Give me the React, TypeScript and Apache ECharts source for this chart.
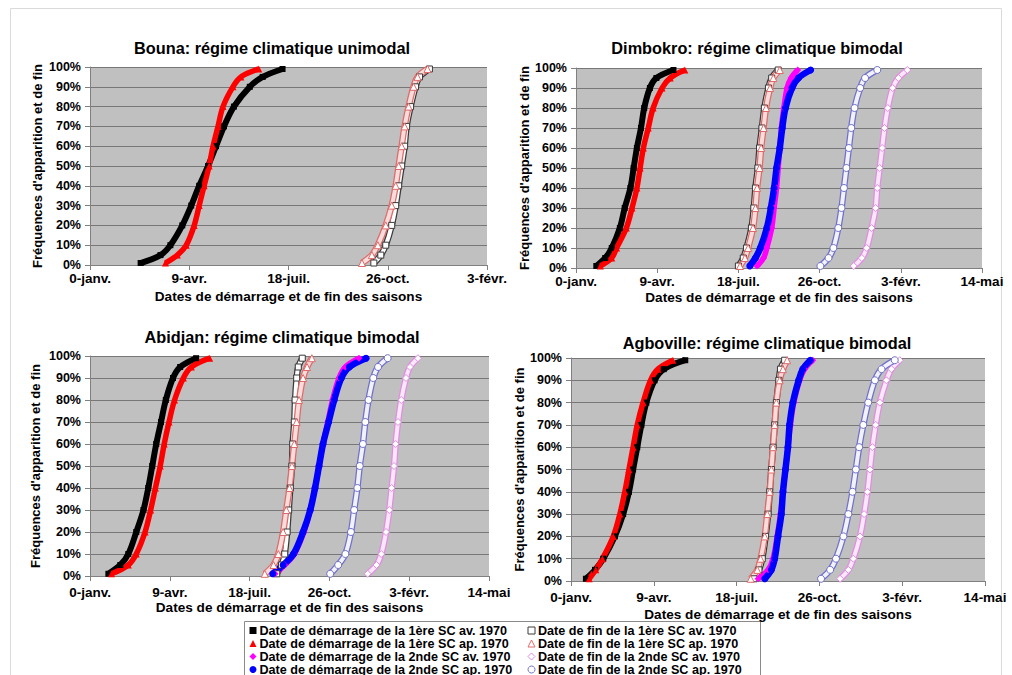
import React, { useEffect, useRef } from "react";
import * as echarts from "echarts";

// cumulative frequency levels (y values) shared by every curve
const FREQ = [0.01, 0.05, 0.1, 0.2, 0.3, 0.4, 0.5, 0.6, 0.7, 0.8, 0.9, 0.95, 0.99];
// x tick labels (Excel day numbers 0,100,200,...)
const TICK_LABELS = ["0-janv.", "9-avr.", "18-juil.", "26-oct.", "3-févr.", "14-mai"];

// ---- Bouna (unimodal), day numbers per frequency level
const BOUNA_DEB1_AV = [51, 71, 81, 93, 102, 110, 119, 127, 135, 145, 161, 174, 194];
const BOUNA_DEB1_AP = [76, 88, 97, 105, 110, 115, 120, 124, 129, 134, 144, 152, 170];
const BOUNA_FIN1_AV = [286, 293, 298, 304, 308, 311, 314, 317, 319, 323, 328, 332, 342];
const BOUNA_FIN1_AP = [274, 284, 290, 298, 304, 308, 311, 314, 317, 321, 326, 330, 340];

// ---- Dimbokro (bimodal)
const DIM_DEB1_AV = [25, 36, 44, 54, 60, 67, 71, 75, 80, 84, 91, 99, 120];
const DIM_DEB1_AP = [30, 44, 50, 62, 69, 75, 79, 83, 89, 95, 106, 116, 134];
const DIM_FIN1_AV = [200, 206, 210, 216, 219, 221, 224, 226, 229, 232, 237, 241, 249];
const DIM_FIN1_AP = [202, 208, 212, 218, 221, 223, 226, 228, 231, 234, 239, 243, 251];
const DIM_DEB2_AV = [223, 231, 235, 241, 244, 247, 249, 251, 253, 256, 260, 265, 273];
const DIM_DEB2_AP = [214, 221, 227, 235, 240, 244, 247, 251, 254, 258, 266, 274, 289];
const DIM_FIN2_AV = [342, 352, 358, 364, 369, 371, 374, 377, 380, 384, 390, 397, 408];
const DIM_FIN2_AP = [301, 311, 317, 323, 327, 330, 333, 336, 339, 343, 350, 356, 371];

// ---- Abidjan (bimodal)
const ABI_DEB1_AV = [23, 38, 48, 58, 67, 73, 78, 83, 89, 95, 104, 113, 133];
const ABI_DEB1_AP = [27, 48, 58, 69, 76, 82, 88, 93, 99, 106, 117, 127, 150];
const ABI_FIN1_AV = [234, 240, 244, 247, 249, 251, 253, 254, 256, 257, 259, 261, 266];
const ABI_FIN1_AP = [219, 230, 236, 242, 246, 250, 253, 256, 259, 262, 267, 272, 278];
const ABI_DEB2_AV = [232, 244, 256, 268, 276, 282, 287, 292, 298, 304, 312, 320, 337];
const ABI_DEB2_AP = [229, 242, 255, 267, 276, 282, 287, 292, 299, 306, 315, 325, 346];
const ABI_FIN2_AV = [348, 359, 365, 371, 375, 378, 381, 383, 386, 390, 396, 401, 411];
const ABI_FIN2_AP = [301, 311, 320, 327, 331, 335, 338, 342, 345, 349, 355, 361, 373];

// ---- Agboville (bimodal)
const AGB_DEB1_AV = [18, 29, 39, 53, 63, 70, 75, 80, 85, 91, 101, 112, 138];
const AGB_DEB1_AP = [22, 30, 38, 51, 59, 65, 70, 75, 80, 87, 96, 105, 123];
const AGB_FIN1_AV = [221, 227, 231, 235, 238, 240, 242, 244, 246, 248, 251, 253, 258];
const AGB_FIN1_AP = [217, 225, 229, 234, 237, 240, 242, 244, 246, 248, 252, 256, 261];
const AGB_DEB2_AV = [226, 238, 244, 249, 253, 256, 259, 262, 265, 269, 276, 282, 292];
const AGB_DEB2_AP = [234, 242, 246, 250, 254, 256, 259, 262, 264, 268, 275, 280, 289];
const AGB_FIN2_AV = [325, 335, 341, 349, 354, 358, 361, 364, 368, 373, 381, 387, 397];
const AGB_FIN2_AP = [302, 313, 320, 329, 335, 340, 344, 348, 353, 359, 367, 375, 391];

const SERIES_NAMES = {
  deb1av: "Date de démarrage de la 1ère SC av. 1970",
  deb1ap: "Date de démarrage de la 1ère SC ap. 1970",
  deb2av: "Date de démarrage de la 2nde SC av. 1970",
  deb2ap: "Date de démarrage de la 2nde SC ap. 1970",
  fin1av: "Date de fin de la 1ère SC av. 1970",
  fin1ap: "Date de fin de la 1ère SC ap. 1970",
  fin2av: "Date de fin de la 2nde SC av. 1970",
  fin2ap: "Date de fin de la 2nde SC ap. 1970",
};

const X_NAME = "Dates de démarrage et de fin des saisons";
const Y_NAME = "Fréquences d'apparition et de fin";
const FONT = "'Liberation Sans', Arial, sans-serif";

type StyleDef = {
  open: boolean;
  symbol: string;
  size: number;
  color: string; // fill (filled) or outline (open)
  inner?: string;
  width: number;
};

const STYLES: Record<string, StyleDef> = {
  deb1av: { open: false, symbol: "rect", size: 6, color: "#000000", width: 6 },
  deb1ap: { open: false, symbol: "triangle", size: 7, color: "#ff0000", width: 5.5 },
  deb2av: { open: false, symbol: "diamond", size: 7, color: "#ff00ff", width: 5.5 },
  deb2ap: { open: false, symbol: "circle", size: 7, color: "#0000ff", width: 6.5 },
  fin1av: { open: true, symbol: "rect", size: 6, color: "#3a3a3a", inner: "#ffffff", width: 6.5 },
  fin1ap: { open: true, symbol: "triangle", size: 7, color: "#e06a6a", inner: "#f7dcdc", width: 6.5 },
  fin2av: { open: true, symbol: "diamond", size: 7, color: "#e08ce0", inner: "#f9e6f9", width: 6.5 },
  fin2ap: { open: true, symbol: "circle", size: 7, color: "#7070cc", inner: "#f2f2ff", width: 6.5 },
};

const PANELS = [
  {
    title: "Bouna: régime climatique unimodal",
    titleX: 272, titleY: 48,
    left: 90, top: 67, width: 397, height: 198, max: 400,
    yNameGap: 46, xNameGap: 24, xLabelMargin: 6,
    curves: [
      ["deb1av", BOUNA_DEB1_AV],
      ["fin1av", BOUNA_FIN1_AV],
      ["deb1ap", BOUNA_DEB1_AP],
      ["fin1ap", BOUNA_FIN1_AP],
    ],
  },
  {
    title: "Dimbokro: régime climatique bimodal",
    titleX: 757, titleY: 48,
    left: 576, top: 68, width: 406, height: 200, max: 500,
    yNameGap: 44, xNameGap: 22, xLabelMargin: 6,
    curves: [
      ["deb1av", DIM_DEB1_AV],
      ["fin1av", DIM_FIN1_AV],
      ["deb1ap", DIM_DEB1_AP],
      ["fin1ap", DIM_FIN1_AP],
      ["deb2av", DIM_DEB2_AV],
      ["fin2av", DIM_FIN2_AV],
      ["deb2ap", DIM_DEB2_AP],
      ["fin2ap", DIM_FIN2_AP],
    ],
  },
  {
    title: "Abidjan: régime climatique bimodal",
    titleX: 282, titleY: 337,
    left: 90, top: 356, width: 399, height: 220, max: 500,
    yNameGap: 48, xNameGap: 24, xLabelMargin: 9,
    curves: [
      ["deb1av", ABI_DEB1_AV],
      ["fin1av", ABI_FIN1_AV],
      ["deb1ap", ABI_DEB1_AP],
      ["fin1ap", ABI_FIN1_AP],
      ["deb2av", ABI_DEB2_AV],
      ["fin2av", ABI_FIN2_AV],
      ["deb2ap", ABI_DEB2_AP],
      ["fin2ap", ABI_FIN2_AP],
    ],
  },
  {
    title: "Agboville: régime climatique bimodal",
    titleX: 767, titleY: 343,
    left: 571, top: 358, width: 414, height: 223, max: 500,
    yNameGap: 42, xNameGap: 26, xLabelMargin: 9,
    curves: [
      ["deb1av", AGB_DEB1_AV],
      ["fin1av", AGB_FIN1_AV],
      ["deb1ap", AGB_DEB1_AP],
      ["fin1ap", AGB_FIN1_AP],
      ["deb2av", AGB_DEB2_AV],
      ["fin2av", AGB_FIN2_AV],
      ["deb2ap", AGB_DEB2_AP],
      ["fin2ap", AGB_FIN2_AP],
    ],
  },
] as const;

function buildOption() {
  const grids: any[] = [];
  const xAxes: any[] = [];
  const yAxes: any[] = [];
  const series: any[] = [];
  const graphics: any[] = [
    {
      type: "rect",
      silent: true,
      shape: { x: 10.5, y: 8.5, width: 991, height: 700 },
      style: { fill: "none", stroke: "#dadada", lineWidth: 1 },
      z: -5,
    },
    {
      type: "rect",
      silent: true,
      shape: { x: 244.5, y: 621.5, width: 516, height: 60 },
      style: { fill: "#ffffff", stroke: "#8a8a8a", lineWidth: 1 },
      z: 0,
    },
  ];

  PANELS.forEach((p, i) => {
    grids.push({
      left: p.left,
      top: p.top,
      width: p.width,
      height: p.height,
      show: true,
      backgroundColor: "#c0c0c0",
      borderWidth: 0,
      containLabel: false,
    });
    xAxes.push({
      type: "value",
      gridIndex: i,
      min: 0,
      max: p.max,
      interval: 100,
      name: X_NAME,
      nameLocation: "middle",
      nameGap: p.xNameGap,
      nameTextStyle: { fontFamily: FONT, fontWeight: "bold", fontSize: 13.6, color: "#000" },
      axisLine: { show: true, onZero: false, lineStyle: { color: "#808080", width: 1 } },
      axisTick: { show: true, length: 5, lineStyle: { color: "#808080" } },
      axisLabel: {
        formatter: (v: number) => TICK_LABELS[Math.round(v / 100)] ?? "",
        fontFamily: FONT,
        fontWeight: "bold",
        fontSize: 13.5,
        color: "#000",
        margin: p.xLabelMargin,
      },
      splitLine: { show: false },
    });
    yAxes.push({
      type: "value",
      gridIndex: i,
      min: 0,
      max: 1,
      interval: 0.1,
      name: Y_NAME,
      nameLocation: "middle",
      nameRotate: 90,
      nameGap: p.yNameGap,
      nameTextStyle: { fontFamily: FONT, fontWeight: "bold", fontSize: 13, color: "#000" },
      axisLine: { show: true, lineStyle: { color: "#808080", width: 1 } },
      axisTick: { show: true, length: 5, lineStyle: { color: "#808080" } },
      axisLabel: {
        formatter: (v: number) => Math.round(v * 100) + "%",
        fontFamily: FONT,
        fontWeight: "bold",
        fontSize: 12.5,
        color: "#000",
        margin: 9,
      },
      splitLine: { show: true, lineStyle: { color: "#777777", width: 1 } },
    });
    graphics.push({
      type: "text",
      silent: true,
      x: p.titleX,
      y: p.titleY,
      style: {
        text: p.title,
        fontFamily: FONT,
        fontWeight: "bold",
        fontSize: 16.3,
        fill: "#000",
        align: "center",
        verticalAlign: "middle",
      },
    });

    p.curves.forEach(([key, xs]) => {
      const st = STYLES[key as string];
      const name = (SERIES_NAMES as any)[key as string];
      const data = (xs as readonly number[]).map((x, j) => [x, FREQ[j]]);
      if (!st.open) {
        series.push({
          type: "line",
          name,
          xAxisIndex: i,
          yAxisIndex: i,
          data,
          smooth: 0.35,
          symbol: st.symbol,
          symbolSize: st.size,
          showSymbol: true,
          lineStyle: { color: st.color, width: st.width },
          itemStyle: { color: st.color },
          emphasis: { disabled: true },
        });
      } else {
        series.push({
          type: "line",
          name,
          xAxisIndex: i,
          yAxisIndex: i,
          data,
          smooth: 0.35,
          showSymbol: false,
          symbol: "none",
          lineStyle: { color: st.color, width: st.width },
          emphasis: { disabled: true },
        });
        series.push({
          type: "line",
          name,
          xAxisIndex: i,
          yAxisIndex: i,
          data,
          smooth: 0.35,
          symbol: st.symbol,
          symbolSize: st.size,
          showSymbol: true,
          lineStyle: { color: st.inner, width: st.width - 2.5 },
          itemStyle: { color: "#ffffff", borderColor: st.color, borderWidth: 1 },
          emphasis: { disabled: true },
        });
      }
    });
  });

  const legendItem = (key: string) => {
    const st = STYLES[key];
    return {
      name: (SERIES_NAMES as any)[key],
      icon: st.symbol,
      itemStyle: st.open
        ? { color: "#ffffff", borderColor: st.color, borderWidth: 1 }
        : { color: st.color, borderWidth: 0 },
    };
  };
  const legendCommon = {
    orient: "vertical",
    top: 624,
    height: 70,
    itemWidth: 7,
    itemHeight: 7,
    itemGap: 0,
    selectedMode: false,
    padding: 0,
    textStyle: {
      fontFamily: FONT,
      fontWeight: "bold",
      fontSize: 12.6,
      lineHeight: 12.2,
      color: "#000",
      padding: [0, 0, 0, -2],
    },
  };

  return {
    animation: false,
    backgroundColor: "#ffffff",
    textStyle: { fontFamily: FONT },
    grid: grids,
    xAxis: xAxes,
    yAxis: yAxes,
    series,
    legend: [
      { ...legendCommon, left: 249.5, data: ["deb1av", "deb1ap", "deb2av", "deb2ap"].map(legendItem) },
      { ...legendCommon, left: 527.5, data: ["fin1av", "fin1ap", "fin2av", "fin2ap"].map(legendItem) },
    ],
    graphic: graphics,
  };
}

export default function App() {
  const ref = useRef<HTMLDivElement>(null);
  useEffect(() => {
    if (!ref.current) return;
    const chart = echarts.init(ref.current, null, { renderer: "svg" });
    chart.setOption(buildOption() as any);
    return () => chart.dispose();
  }, []);
  return (
    <div
      ref={ref}
      style={{ position: "fixed", left: 0, top: 0, width: 1012, height: 675, background: "#fff" }}
    />
  );
}
